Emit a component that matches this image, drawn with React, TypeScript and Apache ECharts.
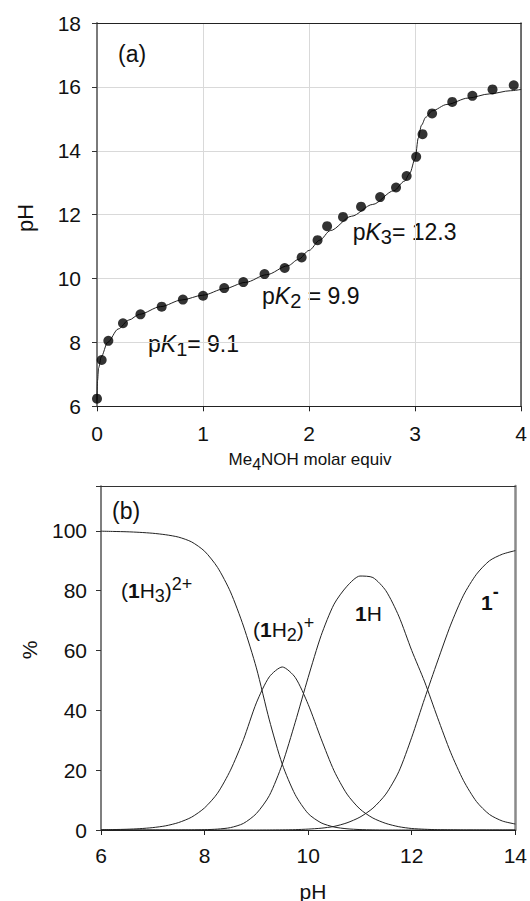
import React, { useEffect, useRef } from 'react';
import * as echarts from 'echarts';

// ---- Panel (a): titration data ----
const equivData = [0.0, 0.044, 0.107, 0.245, 0.41, 0.61, 0.81, 1.0, 1.2, 1.38, 1.58, 1.77, 1.93, 2.08, 2.17, 2.32, 2.49, 2.67, 2.82, 2.92, 3.01, 3.07, 3.16, 3.35, 3.54, 3.73, 3.93];
const pHData = [6.24, 7.45, 8.05, 8.6, 8.88, 9.12, 9.34, 9.46, 9.7, 9.89, 10.14, 10.33, 10.66, 11.2, 11.64, 11.93, 12.25, 12.55, 12.85, 13.21, 13.81, 14.52, 15.17, 15.53, 15.72, 15.92, 16.05];

// fitted curve of panel (a)
const fitEquiv = [0, 0.005, 0.015, 0.04, 0.1, 0.2, 0.3, 0.4, 0.6, 0.8, 1.0, 1.2, 1.4, 1.6, 1.8, 1.9, 2.0, 2.1, 2.2, 2.4, 2.6, 2.8, 2.9, 2.95, 3.0, 3.03, 3.06, 3.1, 3.16, 3.3, 3.5, 3.7, 3.9, 4.0];
const fitPH = [6.2, 6.8, 7.2, 7.55, 8.0, 8.42, 8.7, 8.88, 9.12, 9.33, 9.48, 9.68, 9.88, 10.12, 10.4, 10.6, 10.88, 11.2, 11.5, 11.95, 12.32, 12.75, 13.05, 13.3, 13.75, 14.4, 14.8, 15.05, 15.25, 15.45, 15.65, 15.78, 15.88, 15.92];

// ---- Panel (b): speciation ----
const specPH = [6, 6.25, 6.5, 6.75, 7, 7.25, 7.5, 7.75, 8, 8.25, 8.5, 8.75, 9, 9.25, 9.5, 9.75, 10, 10.25, 10.5, 10.75, 11, 11.25, 11.5, 11.75, 12, 12.25, 12.5, 12.75, 13, 13.25, 13.5, 13.75, 14];
const pctH3 = [99.9, 99.8, 99.7, 99.5, 99.2, 98.7, 97.9, 96.3, 93.2, 87.8, 79.6, 68.2, 54.2, 36.8, 22.0, 11.8, 5.5, 2.4, 1.0, 0.4, 0.15, 0.05, 0, 0, 0, 0, 0, 0, 0, 0, 0, 0, 0];
const pctH2 = [0.1, 0.15, 0.25, 0.45, 0.8, 1.4, 2.5, 4.3, 7.4, 12.3, 20.0, 30.2, 42.5, 51.2, 54.5, 51.0, 42.0, 30.5, 19.8, 12.0, 7.0, 4.0, 2.2, 1.1, 0.5, 0.25, 0.1, 0.05, 0, 0, 0, 0, 0];
const pctH = [0, 0, 0, 0, 0, 0, 0, 0.02, 0.1, 0.3, 0.8, 2.2, 5.5, 11.5, 22.0, 36.0, 51.0, 65.0, 75.5, 81.5, 84.9, 84.4, 80.0, 71.5, 60.0, 49.5, 37.5, 26.0, 16.5, 9.5, 5.2, 3.0, 2.0];
const pctL = [0, 0, 0, 0, 0, 0, 0, 0, 0, 0, 0, 0, 0, 0.02, 0.05, 0.12, 0.3, 0.6, 1.2, 2.4, 4.3, 7.3, 12.0, 19.5, 31.0, 44.0, 56.5, 68.5, 78.5, 85.5, 90.0, 92.2, 93.4];

const FONT = "'Liberation Sans', Arial, Helvetica, sans-serif";
const INK = '#111';

const zip = (xs: number[], ys: number[]) => xs.map((x, i) => [x, ys[i]]);

function txt(x: number, y: number, text: string, rich: any, extra: any = {}) {
  return {
    type: 'text',
    x,
    y,
    ...extra,
    style: {
      text,
      rich,
      fill: INK,
      fontFamily: FONT,
      fontSize: 21,
      align: extra.align || 'left',
      verticalAlign: 'middle',
      textAlign: extra.align || 'left',
      textVerticalAlign: 'middle',
    },
  };
}

const pkRich = {
  n: { fontSize: 23, lineHeight: 30, verticalAlign: 'middle', fill: INK, fontFamily: FONT },
  i: { fontSize: 23, lineHeight: 30, verticalAlign: 'middle', fill: INK, fontFamily: FONT, fontStyle: 'italic' },
  s: { fontSize: 20, lineHeight: 20, verticalAlign: 'bottom', fill: INK, fontFamily: FONT },
};
const spRich = {
  n: { fontSize: 21, lineHeight: 30, verticalAlign: 'middle', fill: INK, fontFamily: FONT },
  b: { fontSize: 21, lineHeight: 30, verticalAlign: 'middle', fill: INK, fontFamily: FONT, fontWeight: 'bold' },
  s: { fontSize: 18, lineHeight: 18, verticalAlign: 'bottom', fill: INK, fontFamily: FONT },
  u: { fontSize: 18, lineHeight: 18, verticalAlign: 'top', fill: INK, fontFamily: FONT },
};
const minusRich = {
  b: { fontSize: 21, lineHeight: 40, verticalAlign: 'middle', fill: INK, fontFamily: FONT, fontWeight: 'bold' },
  u: { fontSize: 18, lineHeight: 18, verticalAlign: 'top', fill: INK, fontFamily: FONT, fontWeight: 'bold' },
};

export default function App() {
  const ref = useRef<HTMLDivElement>(null);

  useEffect(() => {
    const chart = echarts.init(ref.current!, null, { renderer: 'svg' });
    const label = (margin: number) => ({ fontSize: 21, color: INK, fontFamily: FONT, margin });
    const edgeX = (gridIndex: number, min: number, max: number, color: string, width: number) => ({
      type: 'value', gridIndex, position: 'top', min, max,
      axisLine: { show: true, onZero: false, lineStyle: { color, width } },
      axisTick: { show: false }, axisLabel: { show: false }, splitLine: { show: false },
    });
    const edgeY = (gridIndex: number, min: number, max: number, color: string, width: number) => ({
      type: 'value', gridIndex, position: 'right', min, max,
      axisLine: { show: true, onZero: false, lineStyle: { color, width } },
      axisTick: { show: false }, axisLabel: { show: false }, splitLine: { show: false },
    });

    const option: any = {
      animation: false,
      backgroundColor: '#fff',
      textStyle: { fontFamily: FONT },
      grid: [
        { left: 97, top: 23, width: 424.5, height: 383.3 },
        { left: 101, top: 486, width: 418.5, height: 344 },
      ],
      xAxis: [
        {
          type: 'value', gridIndex: 0, min: 0, max: 4, interval: 1,
          axisLine: { show: true, onZero: false, lineStyle: { color: '#222', width: 1.2 } },
          axisTick: { show: true, inside: false, length: 5, lineStyle: { color: '#222' } },
          axisLabel: label(17),
          splitLine: { show: true, lineStyle: { color: '#d9d9d9', width: 1 } },
        },
        edgeX(0, 0, 4, '#222', 1.2),
        {
          type: 'value', gridIndex: 1, min: 6, max: 14, interval: 2,
          axisLine: { show: true, onZero: false, lineStyle: { color: '#222', width: 1.2 } },
          axisTick: { show: true, inside: false, length: 5, lineStyle: { color: '#222' } },
          axisLabel: label(15),
          splitLine: { show: false },
        },
        edgeX(1, 6, 14, '#333', 1.2),
      ],
      yAxis: [
        {
          type: 'value', gridIndex: 0, min: 6, max: 18, interval: 2,
          axisLine: { show: true, onZero: false, lineStyle: { color: '#7a7a7a', width: 2 } },
          axisTick: { show: true, inside: false, length: 5, lineStyle: { color: '#333' } },
          axisLabel: label(16),
          splitLine: { show: true, lineStyle: { color: '#d9d9d9', width: 1 } },
        },
        edgeY(0, 6, 18, '#444', 1.5),
        {
          type: 'value', gridIndex: 1, min: 0, max: 115, interval: 20,
          axisLine: { show: true, onZero: false, lineStyle: { color: '#555', width: 1.5 } },
          axisTick: { show: true, inside: false, length: 5, lineStyle: { color: '#333' } },
          axisLabel: { ...label(14), formatter: (v: number) => (v % 20 === 0 ? String(v) : '') },
          splitLine: { show: false },
        },
        edgeY(1, 0, 115, '#8a8a8a', 2.5),
      ],
      series: [
        {
          type: 'line', xAxisIndex: 0, yAxisIndex: 0, data: zip(fitEquiv, fitPH),
          showSymbol: false, symbol: 'none', smooth: 0.3, smoothMonotone: 'x',
          lineStyle: { color: '#222', width: 1 }, z: 2,
        },
        {
          type: 'scatter', xAxisIndex: 0, yAxisIndex: 0, data: zip(equivData, pHData),
          symbol: 'circle', symbolSize: 10, itemStyle: { color: '#000' }, z: 3,
        },
        ...[pctH3, pctH2, pctH, pctL].map((arr) => ({
          type: 'line', xAxisIndex: 2, yAxisIndex: 2, data: zip(specPH, arr),
          showSymbol: false, symbol: 'none', smooth: 0.25,
          lineStyle: { color: '#222', width: 1 },
        })),
      ],
      graphic: [
        txt(118, 54, '{n|(a)}', { n: { ...pkRich.n } }),
        txt(148, 343.5, '{n|p}{i|K}{s|1}{n|= 9.1}', pkRich),
        txt(262, 296, '{n|p}{i|K}{s|2}{n| = 9.9}', pkRich),
        txt(352.7, 231.7, '{n|p}{i|K}{s|3}{n|= 12.3}', pkRich),
        txt(310, 459, '{n|Me}{s|4}{n|NOH molar equiv}', {
          n: { fontSize: 17, lineHeight: 26, verticalAlign: 'middle', fill: INK, fontFamily: FONT },
          s: { fontSize: 16, lineHeight: 16, verticalAlign: 'bottom', fill: INK, fontFamily: FONT },
        }, { align: 'center' }),
        txt(25, 218, '{n|pH}', { n: { fontSize: 22, lineHeight: 26, fill: INK, fontFamily: FONT } }, { align: 'center', rotation: Math.PI / 2 }),
        txt(112, 511, '{n|(b)}', { n: { ...pkRich.n } }),
        txt(121, 590, '{n|(}{b|1}{n|H}{s|3}{n|)}{u|2+}', spRich),
        txt(253, 629, '{n|(}{b|1}{n|H}{s|2}{n|)}{u|+}', spRich),
        txt(355, 613, '{b|1}{n|H}', spRich),
        txt(481, 602.5, '{b|1}{u|-}', minusRich),
        txt(29, 650, '{n|%}', { n: { fontSize: 21, lineHeight: 26, fill: INK, fontFamily: FONT } }, { align: 'center', rotation: Math.PI / 2 }),
        txt(313, 891, '{n|pH}', { n: { fontSize: 21, lineHeight: 26, fill: INK, fontFamily: FONT } }, { align: 'center' }),
      ],
    };
    chart.setOption(option);
    return () => chart.dispose();
  }, []);

  return (
    <div
      ref={ref}
      style={{ position: 'absolute', left: 0, top: 0, width: 530, height: 901, background: '#fff' }}
    />
  );
}
